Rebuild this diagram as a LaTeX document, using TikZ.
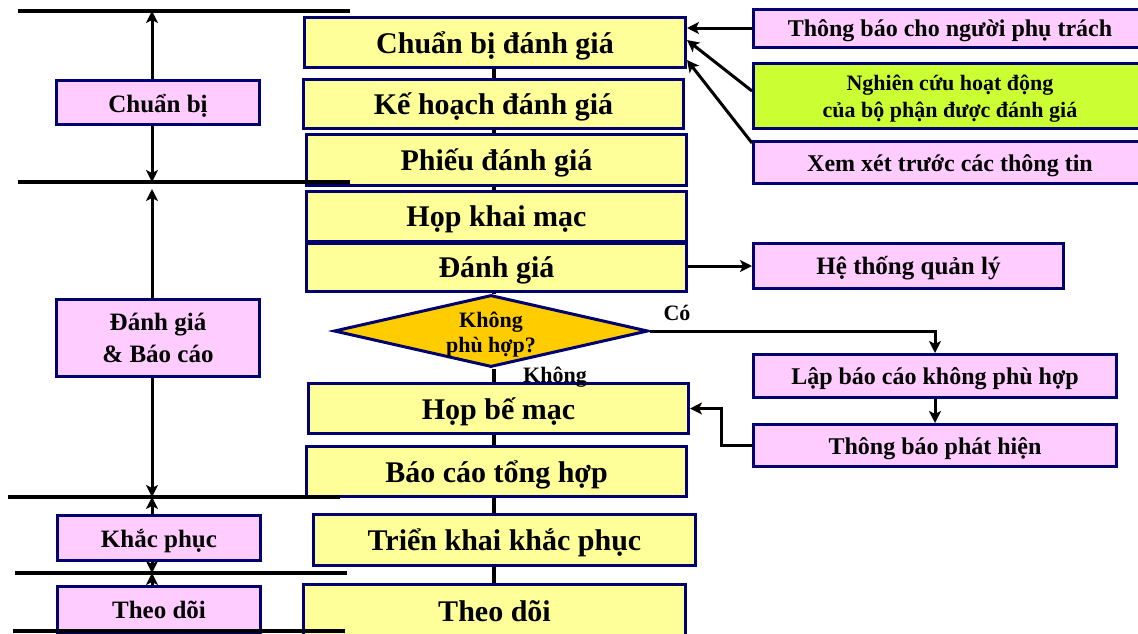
\documentclass[tikz,border=0pt]{standalone}
\usepackage{fontspec}
\setmainfont{Liberation Serif}
\usetikzlibrary{shapes.geometric,arrows.meta,calc}
\definecolor{navy}{RGB}{0,0,110}
\definecolor{ylw}{RGB}{255,255,153}
\definecolor{pnk}{RGB}{255,204,255}
\definecolor{grn}{RGB}{204,255,51}
\definecolor{gold}{RGB}{255,204,0}
\tikzset{
 box/.style={draw=navy, line width=3pt, rectangle, inner sep=0pt, align=center},
 ybox/.style={box, fill=ylw, font=\fontsize{30pt}{34pt}\selectfont\bfseries, text height=24pt, text depth=3pt},
 pbox/.style={box, fill=pnk, font=\fontsize{24pt}{28pt}\selectfont\bfseries, text height=19pt, text depth=2pt},
 lbox/.style={box, fill=pnk, font=\fontsize{25pt}{32pt}\selectfont\bfseries, text height=21pt, text depth=2pt},
 gbox/.style={box, fill=grn, font=\fontsize{22pt}{27pt}\selectfont\bfseries, text height=46pt, text depth=4pt},
 dec/.style={draw=navy, line width=3pt, fill=gold, shape=diamond, inner sep=0pt, aspect=4.36, align=center, font=\fontsize{22pt}{25pt}\selectfont\bfseries, text height=44pt, text depth=2pt},
 sep/.style={line width=4pt, black},
 arr/.style={line width=3pt, -{Stealth[length=12pt,width=12pt,inset=3pt]}},
 link/.style={line width=3.5pt},
 lbl/.style={font=\fontsize{22pt}{26pt}\selectfont\bfseries, inner sep=0pt},
}
\begin{document}
\begin{tikzpicture}[x=1pt,y=-1pt]
\useasboundingbox (0,0) rectangle (1138,633);
\fill[white] (0,0) rectangle (1138,633);
% helper coordinates
\coordinate (sp) at (494,0);
\coordinate (ax) at (152,0);
\coordinate (s1a) at (18,11);  \coordinate (s1b) at (350,11);
\coordinate (s2a) at (18,182); \coordinate (s2b) at (350,182);
\coordinate (s3a) at (8,497);  \coordinate (s3b) at (340,497);
\coordinate (s4a) at (15,573); \coordinate (s4b) at (347,573);
\coordinate (s5a) at (13,631); \coordinate (s5b) at (345,631);
\coordinate (l2top) at (152,189);

% main boxes
\node[ybox, minimum width=381pt, minimum height=50pt] (c1) at (495,42.5) {Chuẩn bị đánh giá};
\node[ybox, minimum width=380pt, minimum height=49pt] (c2) at (493.5,104) {Kế hoạch đánh giá};
\node[ybox, minimum width=380pt, minimum height=51pt] (c3) at (496.5,160) {Phiếu đánh giá};
\node[ybox, minimum width=380pt, minimum height=50pt] (c4) at (496.5,216) {Họp khai mạc};
\node[ybox, minimum width=380pt, minimum height=48pt] (c5) at (496.5,267) {Đánh giá};
\node[dec, minimum width=314pt, minimum height=72pt] (dia) at (491,331) {Không\\phù hợp?};
\node[ybox, minimum width=380pt, minimum height=50pt] (c6) at (498.5,408.5) {Họp bế mạc};
\node[ybox, minimum width=380pt, minimum height=50pt] (c7) at (496.5,471.5) {Báo cáo tổng hợp};
\node[ybox, minimum width=382pt, minimum height=51pt] (c8) at (504.5,540) {Triển khai khắc phục};
\node[ybox, minimum width=382pt, minimum height=52pt] (c9) at (494.5,610.5) {Theo dõi};

% spine connectors
\draw[link] (c1.south -| sp) -- (c2.north -| sp);
\draw[link] (c2.south -| sp) -- (c3.north -| sp);
\draw[link] (c3.south -| sp) -- (c4.north -| sp);
\draw[link] (c5.south -| sp) -- (dia.north -| sp);
\draw[link] (dia.south -| sp) -- (c6.north -| sp);
\draw[link] (c6.south -| sp) -- (c7.north -| sp);
\draw[link] (c7.south -| sp) -- (c8.north -| sp);
\draw[link] (c8.south -| sp) -- (c9.north -| sp);

% left phase boxes
\node[lbox, minimum width=203pt, minimum height=44pt] (l1) at (158,102.5) {Chuẩn bị};
\node[lbox, minimum width=203pt, minimum height=77pt, text height=51pt, text depth=3pt] (l2) at (158,338) {Đánh giá\\\& Báo cáo};
\node[lbox, minimum width=203pt, minimum height=45pt] (l3) at (159,538) {Khắc phục};
\node[lbox, minimum width=203pt, minimum height=46pt] (l4) at (159,609) {Theo dõi};

% right boxes
\node[pbox, minimum width=393pt, minimum height=38pt] (r1) at (950,28) {Thông báo cho người phụ trách};
\node[gbox, minimum width=393pt, minimum height=65pt] (r2) at (950,96) {Nghiên cứu hoạt động\\của bộ phận được đánh giá};
\node[pbox, minimum width=393pt, minimum height=42pt] (r3) at (950,162.5) {Xem xét trước các thông tin};
\node[pbox, font=\fontsize{25pt}{30pt}\selectfont\bfseries, minimum width=310pt, minimum height=45pt] (r4) at (908.5,266) {Hệ thống quản lý};
\node[pbox, minimum width=363pt, minimum height=43pt] (r5) at (935,376) {Lập báo cáo không phù hợp};
\node[pbox, minimum width=363pt, minimum height=42pt] (r6) at (935,445.5) {Thông báo phát hiện};

% right connectors
\draw[arr] (r1.west) -- (r1.west -| c1.east);
\draw[arr] ([yshift=5pt]r2.west) -- ([yshift=2.5pt]c1.east);
\draw[arr] ([yshift=-3pt]r3.north west) -- ([yshift=-17.5pt]c1.east);
\draw[arr] (c5.east |- r4.west) -- (r4.west);
\draw[arr] (dia.east) -| (r5.north);
\draw[arr] (r5.south) -- (r6.north);
\draw[arr] (r6.west) -- ++(-31,0) |- (c6.east);

% labels
\node[lbl] (yes) at (677,313) {Có};
\node[lbl] (no) at (555,377) {Không};

% left arrows
\draw[arr] (l1.north -| ax) -- (ax |- s1a);
\draw[arr] (l1.south -| ax) -- (ax |- s2a);
\draw[arr] (l2.north -| ax) -- (l2top);
\draw[arr] (l2.south -| ax) -- (ax |- s3a);
\draw[arr] (l3.north -| ax) -- (ax |- s3a);
\draw[arr] (l3.south -| ax) -- (ax |- s4a);
\draw[arr] (l4.north -| ax) -- (ax |- s4a);

% separator lines
\draw[sep] (s1a) -- (s1b);
\draw[sep] (s2a) -- (s2b);
\draw[sep] (s3a) -- (s3b);
\draw[sep] (s4a) -- (s4b);
\draw[sep] (s5a) -- (s5b);
\end{tikzpicture}
\end{document}
